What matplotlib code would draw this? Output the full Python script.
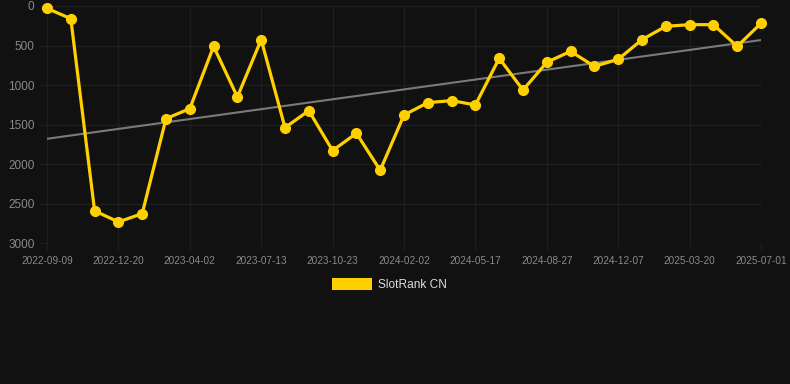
import numpy as np
import matplotlib.pyplot as plt
from matplotlib.patches import Rectangle

# Rank values (lower is better), one point per ~34 days
ranks = [30, 160, 2590, 2730, 2625, 1424, 1298, 510, 1150, 425,
         1538, 1323, 1828, 1609, 2077, 1378, 1222, 1196, 1251, 661,
         1062, 712, 573, 763, 674, 425, 257, 236, 236, 510, 219]
tick_labels = ["2022-09-09", "2022-12-20", "2023-04-02", "2023-07-13",
               "2023-10-23", "2024-02-02", "2024-05-17", "2024-08-27",
               "2024-12-07", "2025-03-20", "2025-07-01"]
series_name = "SlotRank CN"

BG = "#111111"
YELLOW = "#FFD000"


def main():
    x = np.arange(len(ranks))
    y = np.array(ranks)

    fig = plt.figure(figsize=(7.9, 3.84), dpi=100, facecolor=BG)
    ax = fig.add_axes([47 / 790, 1 - 243.3 / 384, 714 / 790, 237.3 / 384])
    ax.set_facecolor(BG)

    # Linear trend
    k, b = np.polyfit(x, y, 1)
    ax.plot(x, k * x + b, color="#7a7a7a", lw=1.5, zorder=2)

    ax.plot(x, y, color=YELLOW, lw=2.3, marker="o", ms=7, 
            markerfacecolor=YELLOW, markeredgecolor=YELLOW, zorder=3,
            clip_on=False)

    ax.set_xlim(0, len(ranks) - 1)
    ax.set_ylim(3000, 0)
    ax.set_yticks([0, 500, 1000, 1500, 2000, 2500, 3000])
    ax.set_xticks(np.arange(0, len(ranks), 3))
    ax.set_xticklabels(tick_labels)

    for s in ax.spines.values():
        s.set_visible(False)
    ax.grid(True, color="#1e1e1e", lw=1)
    ax.tick_params(axis="both", colors="#1e1e1e", length=5, width=1)
    ax.tick_params(axis="x", labelcolor="#8a8a8a", labelsize=7.2, pad=4)
    ax.tick_params(axis="y", labelcolor="#8a8a8a", labelsize=8.5, pad=4)
    for t in ax.get_xticklabels() + ax.get_yticklabels():
        t.set_fontfamily("Liberation Sans")

    # Legend
    fig.patches.append(Rectangle((332 / 790, 1 - 290 / 384), 40 / 790, 12 / 384,
                                 transform=fig.transFigure, facecolor=YELLOW,
                                 edgecolor="none"))
    fig.text(378 / 790, 1 - 284.5 / 384, series_name, color="#dddddd",
             fontsize=8.6, family="Liberation Sans", va="center", ha="left")

    fig.savefig("out.png", dpi=100, facecolor=BG)


if __name__ == "__main__":
    main()
